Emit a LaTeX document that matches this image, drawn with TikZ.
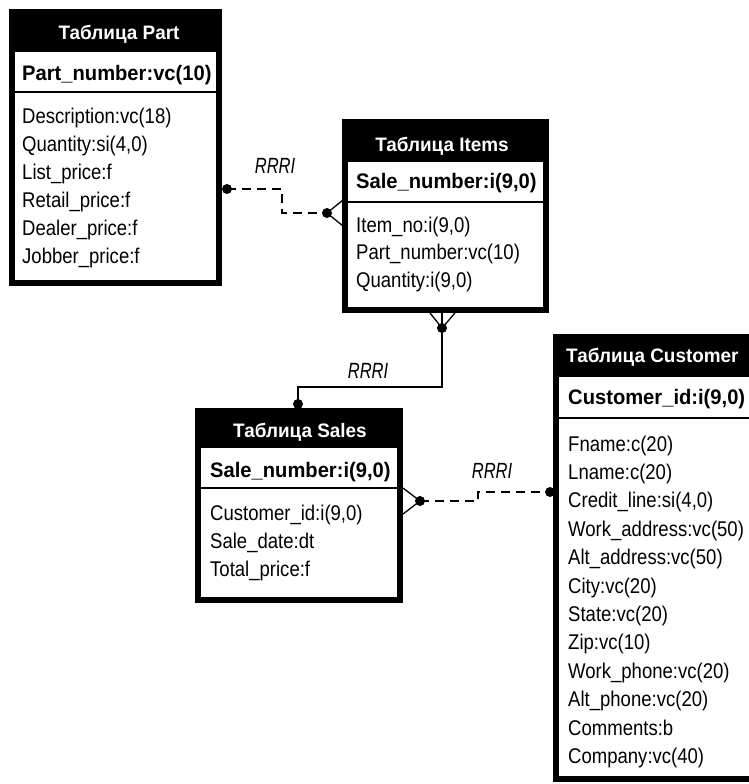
\documentclass[tikz,border=0pt]{standalone}
\usepackage{fontspec}
\setmainfont{Liberation Sans}
\newfontfamily\bodyf{Liberation Sans}[FakeStretch=0.87]
\newfontfamily\keyf{Liberation Sans}[FakeStretch=0.96]
\newfontfamily\hdrf{Liberation Sans}[FakeStretch=0.97]
\newfontfamily\lblf{Liberation Sans}[FakeStretch=0.75]
\begin{document}
\begin{tikzpicture}[x=1pt,y=-1pt,
  frame/.style={draw=black, line width=5.5pt, rectangle, inner sep=0pt, outer sep=0pt},
  hdr/.style={anchor=base, text=white, font=\hdrf\bfseries\fontsize{19.5}{22}\selectfont, inner sep=0pt},
  key/.style={anchor=base west, font=\keyf\bfseries\fontsize{21}{24}\selectfont, inner sep=0pt},
  row/.style={anchor=base west, font=\bodyf\fontsize{21.3}{24}\selectfont, inner sep=0pt},
  lbl/.style={anchor=base, font=\lblf\itshape\fontsize{22}{24}\selectfont, inner sep=0pt},
  sep/.style={line width=1.3pt},
  rel/.style={line width=2pt, dash pattern=on 9pt off 6pt},
  solidrel/.style={line width=1.3pt},
  crow/.style={line width=1.3pt},
  dotc/.style={circle, fill=black, minimum size=10pt, inner sep=0pt}
]
\clip (0,0) rectangle (749,784);
\fill[white] (0,0) rectangle (749,784);

% ---- Part
\fill[black] (12,12) rectangle (219,52);
\draw[sep] (12,92) -- (219,92);
\node[frame, minimum width=207pt, minimum height=271pt] (part) at (115.5,147.5) {};
\node[hdr] (parth) at (119,40) {Таблица Part};
\node[key] (partk) at (22,81) {Part\_number:vc(10)};
\foreach[count=\i] \t in {{Description:vc(18)},{Quantity:si(4,0)},{List\_price:f},{Retail\_price:f},{Dealer\_price:f},{Jobber\_price:f}}
  \node[row] (part\i) at (22,{123+28*(\i-1)}) {\t};

% ---- Items
\fill[black] (345,122) rectangle (546,162);
\draw[sep] (345,202) -- (546,202);
\node[frame, minimum width=201pt, minimum height=188pt] (items) at (445.5,216) {};
\node[hdr] (itemsh) at (442,151) {Таблица Items};
\node[key] (itemsk) at (356,188) {Sale\_number:i(9,0)};
\foreach[count=\i] \t in {{Item\_no:i(9,0)},{Part\_number:vc(10)},{Quantity:i(9,0)}}
  \node[row] (items\i) at (356,{232+27.5*(\i-1)}) {\t};

% ---- Sales
\fill[black] (198,411) rectangle (400,448);
\draw[sep] (198,488) -- (400,488);
\node[frame, minimum width=202pt, minimum height=189pt] (sales) at (299,505.5) {};
\node[hdr] (salesh) at (300,437) {Таблица Sales};
\node[key] (salesk) at (210,477) {Sale\_number:i(9,0)};
\foreach[count=\i] \t in {{Customer\_id:i(9,0)},{Sale\_date:dt},{Total\_price:f}}
  \node[row] (sales\i) at (210,{520+28*(\i-1)}) {\t};

% ---- Customer
\fill[black] (556,337) rectangle (775,377);
\draw[sep] (556,418) -- (775,418);
\node[frame, minimum width=219pt, minimum height=442pt] (cust) at (665.5,558) {};
\node[hdr, anchor=base west] (custh) at (566,362) {Таблица Customer};
\node[key] (custk) at (568,404) {Customer\_id:i(9,0)};
\foreach[count=\i] \t in {{Fname:c(20)},{Lname:c(20)},{Credit\_line:si(4,0)},{Work\_address:vc(50)},{Alt\_address:vc(50)},{City:vc(20)},{State:vc(20)},{Zip:vc(10)},{Work\_phone:vc(20)},{Alt\_phone:vc(20)},{Comments:b},{Company:vc(40)}}
  \node[row] (cust\i) at (568,{451+28.4*(\i-1)}) {\t};

% ---- connectors
\coordinate (c1a) at (343,200);
\coordinate (c1b) at (343,226);
\coordinate (c2a) at (430,313);
\coordinate (c2m) at (442,313);
\coordinate (c2b) at (455,313);
\coordinate (c3a) at (403,488);
\coordinate (c3b) at (403,514);

\node[dotc] (d1) at (227,189) {};
\node[dotc] (d2) at (327,213) {};
\draw[rel] (d1.center) -- ++(55,0) |- (d2.center);
\draw[crow] (c1a) -- (d2.center) -- (c1b);

\node[dotc] (d3) at (442,328) {};
\node[dotc] (d4) at (298,404) {};
\draw[solidrel] (c2m) -- (d3.center) -- ++(0,59) -| (d4.center);
\draw[crow] (c2a) -- (d3.center) -- (c2b);

\node[dotc] (d5) at (420,501) {};
\node[dotc] (d6) at (550,492) {};
\draw[rel] (d5.center) -- ++(58,0) |- (d6.center);
\draw[crow] (c3a) -- (d5.center) -- (c3b);

\node[lbl] (l1) at (275,173) {RRRI};
\node[lbl] (l2) at (368,378) {RRRI};
\node[lbl] (l3) at (492,478) {RRRI};
\end{tikzpicture}
\end{document}
